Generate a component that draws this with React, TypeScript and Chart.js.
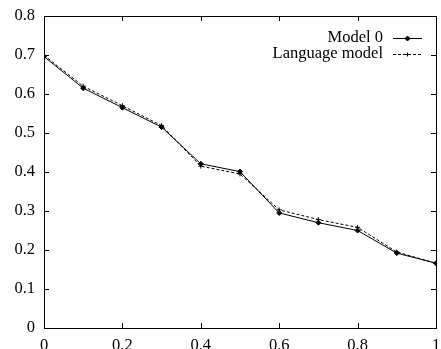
import React, { useEffect, useRef } from "react";
import { Chart, registerables } from "chart.js";

Chart.register(...registerables);

const xValues = [0, 0.1, 0.2, 0.3, 0.4, 0.5, 0.6, 0.7, 0.8, 0.9, 1.0];
const model0 = [0.696, 0.615, 0.565, 0.515, 0.421, 0.401, 0.295, 0.27, 0.25, 0.192, 0.166];
const languageModel = [0.699, 0.62, 0.57, 0.519, 0.415, 0.395, 0.303, 0.278, 0.258, 0.195, 0.166];
const xTicks = [0, 0.2, 0.4, 0.6, 0.8, 1];
const yTicks = [0, 0.1, 0.2, 0.3, 0.4, 0.5, 0.6, 0.7, 0.8];
const seriesLabels = ["Model 0", "Language model"];

const FONT = "'Liberation Serif', 'DejaVu Serif', serif";
const FS = 16.5;

const framePlugin = {
  id: "gnuframe",
  afterDraw(chart: any) {
    const { ctx, chartArea } = chart;
    const xs = chart.scales.x;
    const ys = chart.scales.y;
    const { left, right, top, bottom } = chartArea;
    const tl = 5;
    ctx.save();
    ctx.strokeStyle = "#000";
    ctx.lineWidth = 1;
    ctx.beginPath();
    for (const v of xTicks) {
      const px = Math.round(xs.getPixelForValue(v)) + 0.5;
      ctx.moveTo(px, bottom);
      ctx.lineTo(px, bottom - tl);
      ctx.moveTo(px, top);
      ctx.lineTo(px, top + tl);
    }
    for (const v of yTicks) {
      const py = Math.round(ys.getPixelForValue(v)) + 0.5;
      ctx.moveTo(left, py);
      ctx.lineTo(left + tl, py);
      ctx.moveTo(right, py);
      ctx.lineTo(right - tl, py);
    }
    ctx.stroke();
    ctx.strokeRect(Math.round(left) + 0.5, Math.round(top) + 0.5, Math.round(right - left), Math.round(bottom - top));

    // legend
    ctx.font = `${FS}px ${FONT}`;
    ctx.fillStyle = "#000";
    ctx.textAlign = "right";
    ctx.textBaseline = "middle";
    const textRight = right - 53;
    const lineStart = right - 43;
    const lineEnd = right - 14;
    const rows = [38, 54];
    chart.data.datasets.forEach((ds: any, i: number) => {
      const y = rows[i];
      ctx.fillText(ds.label, textRight, y);
      ctx.beginPath();
      ctx.setLineDash(ds.borderDash || []);
      ctx.lineWidth = 1;
      ctx.moveTo(lineStart, y + 0.5);
      ctx.lineTo(lineEnd, y + 0.5);
      ctx.stroke();
      ctx.setLineDash([]);
      const cx = (lineStart + lineEnd) / 2;
      ctx.beginPath();
      if (i === 0) {
        const r = 2.5;
        ctx.moveTo(cx, y + 0.5 - r);
        ctx.lineTo(cx + r, y + 0.5);
        ctx.lineTo(cx, y + 0.5 + r);
        ctx.lineTo(cx - r, y + 0.5);
        ctx.closePath();
        ctx.fill();
        ctx.stroke();
      } else {
        ctx.moveTo(cx - 2, y + 0.5);
        ctx.lineTo(cx + 2, y + 0.5);
        ctx.moveTo(cx, y - 1.5);
        ctx.lineTo(cx, y + 2.5);
        ctx.stroke();
      }
    });
    ctx.restore();
  },
};

export default function App() {
  const ref = useRef<HTMLCanvasElement>(null);
  useEffect(() => {
    const chart = new Chart(ref.current!, {
      type: "line",
      data: {
        datasets: [
          {
            label: seriesLabels[0],
            data: xValues.map((x, i) => ({ x, y: model0[i] })),
            borderColor: "#000",
            backgroundColor: "#000",
            borderWidth: 1,
            pointStyle: "rectRot",
            pointRadius: 2.5,
            pointBorderWidth: 1,
            fill: false,
          },
          {
            label: seriesLabels[1],
            data: xValues.map((x, i) => ({ x, y: languageModel[i] })),
            borderColor: "#000",
            backgroundColor: "#000",
            borderWidth: 1,
            borderDash: [3, 2],
            pointStyle: "cross",
            pointRadius: 2.5,
            pointBorderWidth: 1,
            fill: false,
          },
        ],
      },
      options: {
        animation: false,
        responsive: false,
        maintainAspectRatio: false,
        layout: { padding: { top: 16, right: 3, left: 0, bottom: 0 } },
        plugins: { legend: { display: false }, tooltip: { enabled: false } },
        scales: {
          x: {
            type: "linear",
            min: 0,
            max: 1,
            grid: { display: false, drawTicks: false },
            border: { display: false },
            afterBuildTicks: (s: any) => {
              s.ticks = xTicks.map((v) => ({ value: v }));
            },
            afterFit: (s: any) => {
              s.height = 21;
              s.paddingLeft = 0;
              s.paddingRight = 0;
            },
            ticks: {
              color: "#000",
              font: { family: FONT, size: FS },
              padding: 8,
              maxRotation: 0,
              autoSkip: false,
              callback: (v: any) => String(v),
            },
          },
          y: {
            type: "linear",
            min: 0,
            max: 0.8,
            grid: { display: false, drawTicks: false },
            border: { display: false },
            afterBuildTicks: (s: any) => {
              s.ticks = yTicks.map((v) => ({ value: v }));
            },
            afterFit: (s: any) => {
              s.width = 44;
              s.paddingTop = 0;
              s.paddingBottom = 0;
            },
            ticks: {
              color: "#000",
              font: { family: FONT, size: FS },
              padding: 9,
              autoSkip: false,
              callback: (v: any) => String(Math.round(v * 10) / 10),
            },
          },
        },
      },
      plugins: [framePlugin],
    } as any);
    return () => chart.destroy();
  }, []);
  return (
    <div style={{ position: "fixed", left: 0, top: 0, width: 441, height: 349, background: "#fff" }}>
      <canvas ref={ref} width={441} height={349} style={{ display: "block", width: 441, height: 349 }} />
    </div>
  );
}
